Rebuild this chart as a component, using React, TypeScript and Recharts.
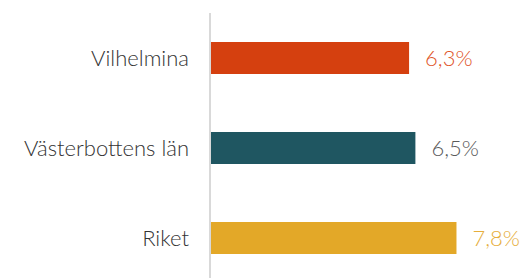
import React from "react";
import { BarChart, Bar, XAxis, YAxis, Cell, LabelList } from "recharts";

const categories = ["Vilhelmina", "Västerbottens län", "Riket"];
const values = [6.3, 6.5, 7.8];
const barColors = ["#d5400f", "#1f5661", "#e3a828"];
const labelColors = ["#e0552a", "#5a5a5a", "#e6ae3c"];

const data = categories.map((name, i) => ({ name, value: values[i] }));

const fontFamily = "Lato, 'Open Sans', sans-serif";

const ValueLabel = (props: any) => {
  const { x, y, width, height, index, value } = props;
  return (
    <text
      x={x + width + 16}
      y={y + height / 2}
      dy="0.36em"
      fill={labelColors[index]}
      fontSize={22}
      fontWeight={300}
      fontFamily={fontFamily}
      textAnchor="start"
    >
      {String(value).replace(".", ",") + "%"}
    </text>
  );
};

export default function App() {
  return (
    <div
      style={{
        position: "fixed",
        left: 0,
        top: 0,
        width: 525,
        height: 278,
        overflow: "hidden",
        background: "#fff",
      }}
    >
      <BarChart
        width={526}
        height={290}
        data={data}
        layout="vertical"
        margin={{ top: 13, right: 0, bottom: 7, left: 8 }}
      >
        <XAxis type="number" domain={[0, 10]} hide />
        <YAxis
          type="category"
          dataKey="name"
          width={202}
          tickLine={false}
          tickSize={0}
          tickMargin={21}
          axisLine={{ stroke: "#d9d9d9", strokeWidth: 2 }}
          tick={{ fill: "#333", fontSize: 22, fontFamily, fontWeight: 300 }}
        />
        <Bar dataKey="value" barSize={32} isAnimationActive={false}>
          {data.map((d, i) => (
            <Cell key={d.name} fill={barColors[i]} />
          ))}
          <LabelList dataKey="value" content={ValueLabel} />
        </Bar>
      </BarChart>
    </div>
  );
}
